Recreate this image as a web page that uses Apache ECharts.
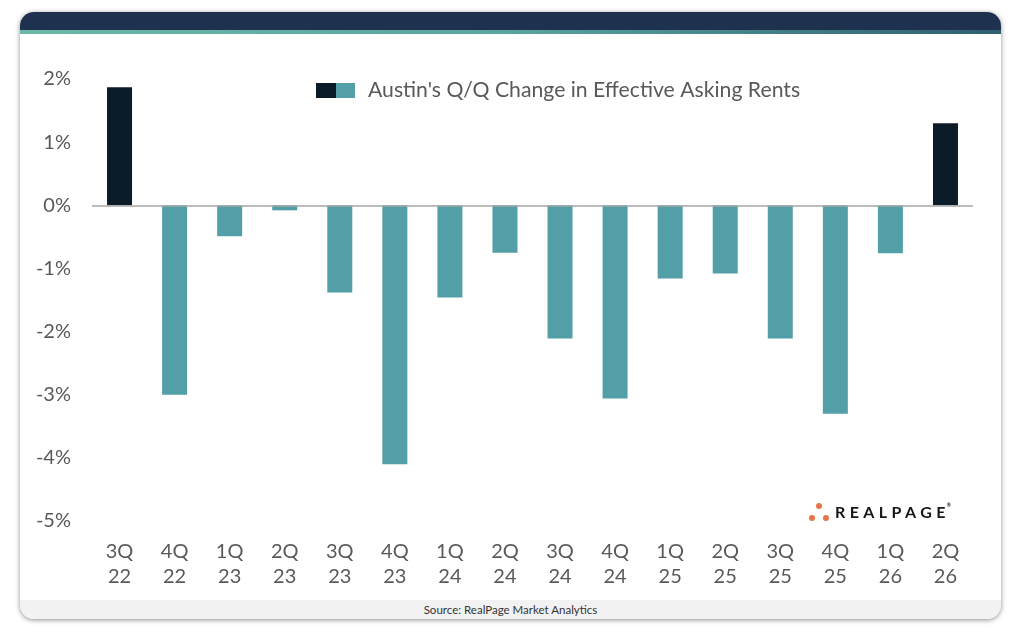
<!DOCTYPE html>
<html>
<head>
<meta charset="utf-8">
<script src="https://cdn.jsdelivr.net/npm/echarts@6/dist/echarts.min.js"></script>
<style>
html, body { margin: 0; padding: 0; background: #fff; width: 1020px; height: 633px; overflow: hidden; font-family: Lato, "Open Sans", sans-serif; }
.card { position: absolute; left: 20px; top: 12px; width: 981px; height: 607px; background: #fff; border-radius: 14px; box-shadow: 0 1px 5px rgba(0,0,0,0.45); overflow: hidden; }
.card .head { position: absolute; left: 0; top: 0; width: 100%; height: 18px; background: #1e3250; }
.card .stripe { position: absolute; left: 0; top: 18px; width: 100%; height: 4px; background: linear-gradient(to right, #6db7a6, #5aa3a0 50%, #2f5f70); }
.card .foot { position: absolute; left: 0; bottom: 0; width: 100%; height: 19px; background: #f2f2f2; text-align: center; font-size: 11.5px; line-height: 19px; color: #333; }
#chart { position: absolute; left: 0; top: 0; width: 1020px; height: 633px; }
.logo { position: absolute; left: 809px; top: 500px; width: 160px; height: 26px; }
.logo .dot { position: absolute; width: 6px; height: 6px; border-radius: 50%; background: #e8734f; }
.logo .word { position: absolute; left: 26px; top: 2px; font-size: 16px; font-weight: 700; letter-spacing: 4.4px; color: #161616; }
.logo .word sup { font-size: 5px; letter-spacing: 0; vertical-align: top; position: relative; left: -3px; }
</style>
</head>
<body>
<div class="card">
    <div class="head"></div>
    <div class="stripe"></div>
    <div class="foot">Source: RealPage Market Analytics</div>
</div>
<div id="chart"></div>
<div class="logo">
    <span class="dot" style="left:7px;top:3px"></span>
    <span class="dot" style="left:0px;top:15px"></span>
    <span class="dot" style="left:14px;top:15px"></span>
    <span class="word">REALPAGE<sup>®</sup></span>
</div>
<script>
var quarters = ['3Q\n22', '4Q\n22', '1Q\n23', '2Q\n23', '3Q\n23', '4Q\n23', '1Q\n24', '2Q\n24',
    '3Q\n24', '4Q\n24', '1Q\n25', '2Q\n25', '3Q\n25', '4Q\n25', '1Q\n26', '2Q\n26'];
var rentChange = [1.87, -3.0, -0.49, -0.08, -1.38, -4.1, -1.46, -0.75,
    -2.11, -3.06, -1.16, -1.08, -2.11, -3.3, -0.76, 1.3];
var seriesName = "Austin's Q/Q Change in Effective Asking Rents";
var upColor = '#0c1b28';
var downColor = '#529fa7';

var legendIcon = 'image://data:image/svg+xml;charset=utf-8,' + encodeURIComponent(
    '<svg xmlns="http://www.w3.org/2000/svg" width="39" height="15">' +
    '<rect x="0" y="0" width="20" height="15" fill="' + upColor + '"/>' +
    '<rect x="20" y="0" width="19" height="15" fill="' + downColor + '"/></svg>');

var chart = echarts.init(document.getElementById('chart'), null, { renderer: 'canvas' });
var option = {
    animation: false,
    textStyle: { fontFamily: 'Lato, "Open Sans", sans-serif' },
    grid: { left: 92, right: 47, top: 79, bottom: 112, containLabel: false },
    legend: {
        top: 80,
        left: 316,
        padding: 0,
        icon: legendIcon,
        itemWidth: 39,
        itemHeight: 15,
        itemGap: 10,
        textStyle: { color: '#595959', fontSize: 21.2, padding: [0, 0, 0, 8] },
        data: [seriesName]
    },
    xAxis: {
        type: 'category',
        data: quarters,
        position: 'bottom',
        axisLine: { show: false, onZero: false },
        axisTick: { show: false },
        axisLabel: { color: '#595959', fontSize: 20, lineHeight: 25, margin: 18 }
    },
    yAxis: {
        type: 'value',
        min: -5,
        max: 2,
        interval: 1,
        splitLine: { show: false },
        axisLine: { show: false },
        axisTick: { show: false },
        axisLabel: { color: '#595959', fontSize: 20, margin: 21, formatter: '{value}%' }
    },
    series: [{
        name: seriesName,
        type: 'bar',
        barWidth: 25,
        itemStyle: {
            color: function(p) {
                return p.value >= 0 ? upColor : downColor;
            }
        },
        data: rentChange,
        markLine: {
            silent: true,
            symbol: 'none',
            label: { show: false },
            lineStyle: { color: '#a6a6a6', width: 1.5, type: 'solid' },
            data: [{ yAxis: 0 }]
        }
    }]
};
chart.setOption(option);
</script>
</body>
</html>
